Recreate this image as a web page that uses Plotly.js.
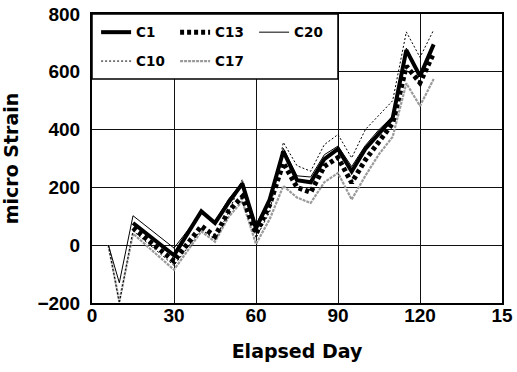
<!DOCTYPE html>
<html>
<head>
<meta charset="utf-8">
<script src="https://cdn.plot.ly/plotly-3.0.1.min.js"></script>
<style>
  html, body { margin: 0; padding: 0; background: #fff; }
  #chart { width: 517px; height: 372px; }
</style>
</head>
<body>
<div id="chart"></div>
<script>
// Elapsed day of each strain reading
const days = [6, 10, 15, 30, 40, 45, 50, 55, 60, 65, 70, 75, 80, 85, 90, 95, 100, 105, 110, 115, 120, 125];

// Measured strain (micro strain) per gauge; null = no reading that day
const c1  = [null, null,  77, -35, 117,  77, 148, 213,  58, 158, 325, 225, 218, 298, 333, 255, 333, 385, 440, 675, 585, 695];
const c13 = [null, null,  60, -55,  66,  31, 118, 168,  40, 140, 285, 200, 183, 273, 303, 216, 295, 362, 422, 620, 562, 665];
const c20 = [   0, -130, 102, -10, 112,  82, 160, 218,  72, 160, 335, 240, 236, 313, 343, 272, 345, 400, 445, 682, 592, 690];
const c10 = [   0, -200,  50, -70,  55,  20, 115, 228,  25, 115, 356, 275, 256, 348, 383, 302, 400, 450, 500, 738, 650, 745];
const c17 = [   0, -195,  40, -85,  48,  12,  98, 152,   4,  90, 205, 165, 146, 218, 250, 158, 240, 315, 375, 560, 482, 575];

const xTickVals = [0, 30, 60, 90, 120, 150];
const xTickText = ['0', '30', '60', '90', '120', '15'];

const tickFont = { family: 'Liberation Sans, Arial, sans-serif', size: 19, color: '#000', weight: 'bold' };
const titleFont = { family: 'DejaVu Sans, sans-serif', size: 19, color: '#000', weight: 'bold' };
const legendFont = { family: 'DejaVu Sans, sans-serif', size: 13.5, color: '#000', weight: 'bold' };

function series(name, y, line, legend, rank) {
  return {
    type: 'scatter', mode: 'lines', name: name,
    x: days, y: y, line: line,
    legend: legend, legendrank: rank,
    connectgaps: false, hoverinfo: 'skip'
  };
}

const traces = [
  series('C17', c17, { color: '#9a9a9a', width: 2.2, dash: '3px,1px' }, 'legend2', 5),
  series('C10', c10, { color: '#000', width: 1, dash: '2px,2px' }, 'legend2', 4),
  series('C20', c20, { color: '#000', width: 1 }, 'legend', 3),
  series('C13', c13, { color: '#000', width: 5, dash: '4px,3px' }, 'legend', 2),
  series('C1',  c1,  { color: '#000', width: 4 }, 'legend', 1)
];

const legendBase = {
  orientation: 'h', xanchor: 'left', yanchor: 'top',
  bgcolor: 'rgba(0,0,0,0)', borderwidth: 0,
  font: legendFont, entrywidth: 34, entrywidthmode: 'pixels',
  itemwidth: 30, traceorder: 'normal'
};

const layout = {
  width: 517, height: 372,
  margin: { l: 92, r: 15, t: 14, b: 69 },
  paper_bgcolor: '#fff', plot_bgcolor: '#fff',
  showlegend: true,
  xaxis: {
    range: [0, 150], tickvals: xTickVals, ticktext: xTickText,
    showgrid: true, gridcolor: '#111', gridwidth: 1,
    showline: true, linecolor: '#000', linewidth: 2, mirror: true,
    zeroline: false, ticks: '', ticklabelstandoff: -6,
    tickfont: tickFont,
    title: { text: 'Elapsed Day', font: titleFont, standoff: 20 }
  },
  yaxis: {
    range: [-200, 800], dtick: 200, tick0: -200,
    showgrid: true, gridcolor: '#111', gridwidth: 1,
    showline: true, linecolor: '#000', linewidth: 2, mirror: true,
    zeroline: false, ticks: '', ticklabelstandoff: 6,
    tickfont: tickFont,
    title: { text: 'micro Strain', font: titleFont, standoff: 31 }
  },
  legend: Object.assign({}, legendBase, { x: 0.01, y: 0.99 }),
  legend2: Object.assign({}, legendBase, { x: 0.01, y: 0.89 }),
  shapes: [{
    type: 'rect', xref: 'paper', yref: 'paper', layer: 'above',
    x0: 0, x1: 0.6, y0: 0.775, y1: 1,
    fillcolor: '#fff', line: { color: '#000', width: 1.5 }
  }]
};

Plotly.newPlot('chart', traces, layout, { displayModeBar: false, staticPlot: true });
</script>
</body>
</html>
